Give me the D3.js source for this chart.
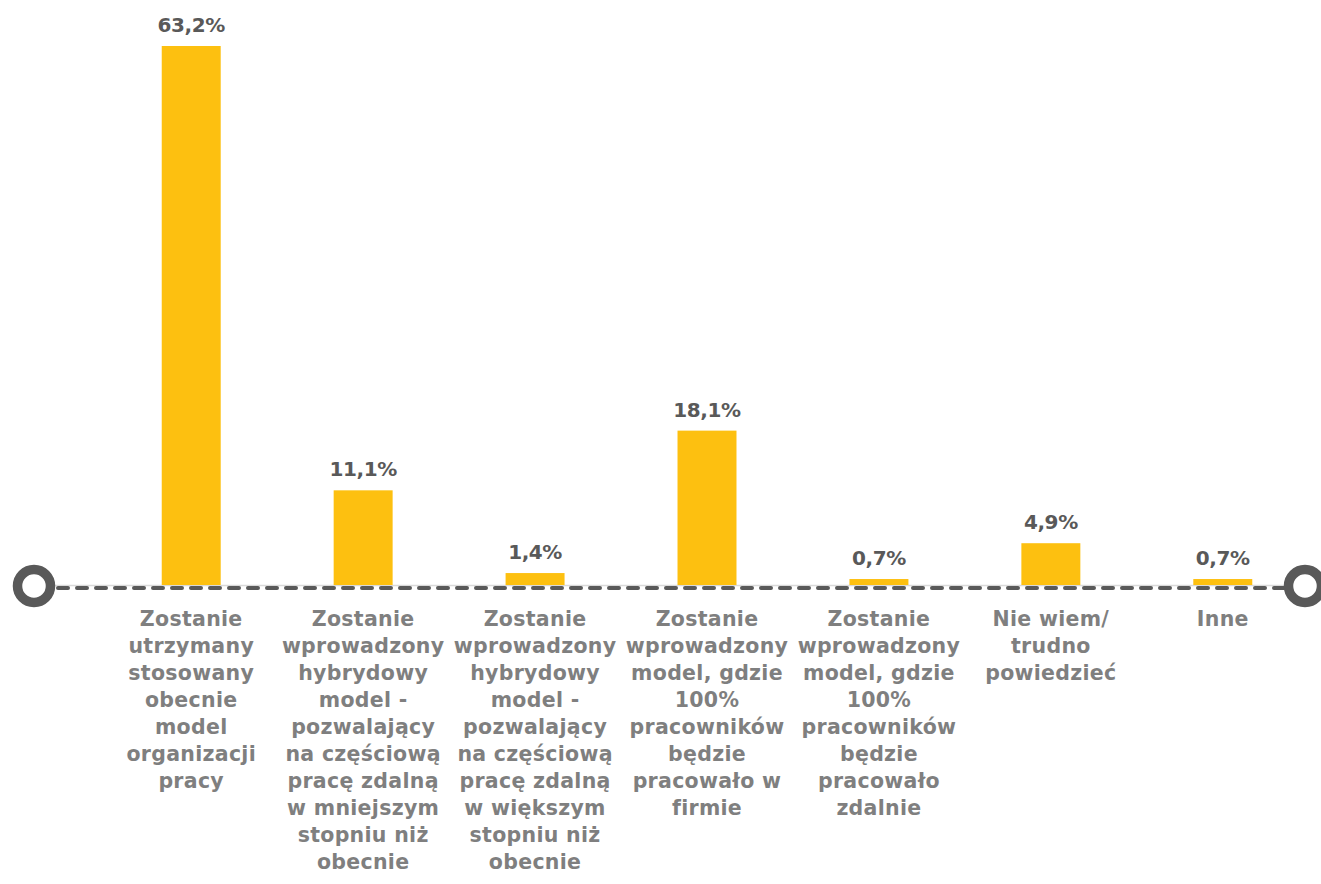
<!DOCTYPE html>
<html>
<head>
<meta charset="utf-8">
<script src="https://cdn.jsdelivr.net/npm/d3@7"></script>
<style>
  body { margin: 0; background: #fff; }
  text { font-family: "DejaVu Sans", sans-serif; font-weight: bold; }
</style>
</head>
<body>
<svg id="chart" width="1321" height="884"></svg>
<script>
const width = 1321;
const height = 884;

// dane z wykresu
const categories = [
  ["Zostanie", "utrzymany", "stosowany", "obecnie", "model", "organizacji", "pracy"],
  ["Zostanie", "wprowadzony", "hybrydowy", "model -", "pozwalający", "na częściową", "pracę zdalną", "w mniejszym", "stopniu niż", "obecnie"],
  ["Zostanie", "wprowadzony", "hybrydowy", "model -", "pozwalający", "na częściową", "pracę zdalną", "w większym", "stopniu niż", "obecnie"],
  ["Zostanie", "wprowadzony", "model, gdzie", "100%", "pracowników", "będzie", "pracowało w", "firmie"],
  ["Zostanie", "wprowadzony", "model, gdzie", "100%", "pracowników", "będzie", "pracowało", "zdalnie"],
  ["Nie wiem/", "trudno", "powiedzieć"],
  ["Inne"]
];
const values = [63.2, 11.1, 1.4, 18.1, 0.7, 4.9, 0.7];
const valueLabels = ["63,2%", "11,1%", "1,4%", "18,1%", "0,7%", "4,9%", "0,7%"];

const baseY = 585;
const svg = d3.select("#chart");

const x = d3.scaleBand()
  .domain(d3.range(values.length))
  .range([105, 1309])
  .paddingInner(0.657)
  .paddingOuter(0.33);

const y = d3.scaleLinear()
  .domain([0, 63.2])
  .range([baseY, 46]);

// cienka linia osi
svg.append("line")
  .attr("x1", 40).attr("x2", 1310)
  .attr("y1", baseY + 0.5).attr("y2", baseY + 0.5)
  .attr("stroke", "#d9d9d9")
  .attr("stroke-width", 1.5);

// linia przerywana
svg.append("line")
  .attr("x1", 58).attr("x2", 1286)
  .attr("y1", baseY + 3).attr("y2", baseY + 3)
  .attr("stroke", "#595959")
  .attr("stroke-width", 4)
  .attr("stroke-linecap", "round")
  .attr("stroke-dasharray", "10 9");

// kółka na końcach
[34, 1305].forEach(function (cx) {
  svg.append("circle")
    .attr("cx", cx).attr("cy", baseY + 1)
    .attr("r", 16.5)
    .attr("fill", "#fff")
    .attr("stroke", "#595959")
    .attr("stroke-width", 9.5);
});

svg.selectAll("rect.bar")
  .data(values)
  .enter()
  .append("rect")
  .attr("class", "bar")
  .attr("x", (d, i) => x(i))
  .attr("y", d => y(d))
  .attr("width", x.bandwidth())
  .attr("height", d => baseY - y(d))
  .attr("fill", "#fdc010");

svg.selectAll("text.val")
  .data(values)
  .enter()
  .append("text")
  .attr("class", "val")
  .attr("x", (d, i) => x(i) + x.bandwidth() / 2)
  .attr("y", d => y(d) - 14)
  .attr("text-anchor", "middle")
  .attr("font-size", 20)
  .attr("letter-spacing", -0.4)
  .attr("fill", "#595959")
  .text((d, i) => valueLabels[i]);

let labels = svg.selectAll("text.cat")
  .data(categories)
  .enter()
  .append("text")
  .attr("class", "cat")
  .attr("text-anchor", "middle")
  .attr("font-size", 20.5)
  .attr("letter-spacing", 0.3)
  .attr("fill", "#7f7f7f");

labels.each(function (lines, i) {
  let t = d3.select(this);
  lines.forEach(function (line, j) {
    t.append("tspan")
      .attr("x", x(i) + x.bandwidth() / 2)
      .attr("y", 626 + j * 27)
      .text(line);
  });
});
</script>
</body>
</html>
